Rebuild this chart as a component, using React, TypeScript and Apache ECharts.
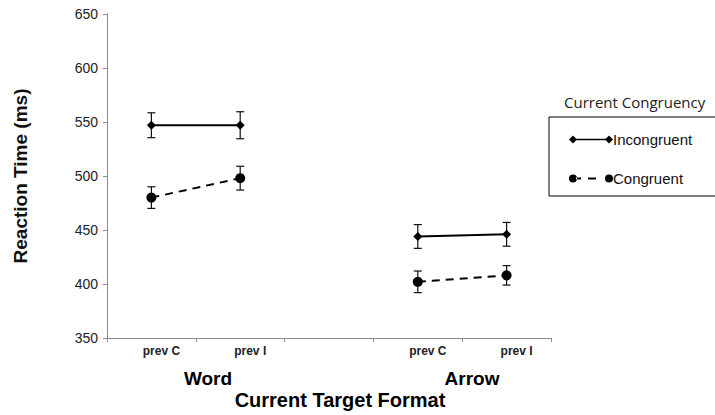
import React, { useEffect, useRef } from "react";
import * as echarts from "echarts";

const categories = ["prev C", "prev I", "", "prev C", "prev I"];
const incongruent = [547, 547, null, 444, 446];
const congruent = [480, 498, null, 402, 408];
const incongruentErr = [11.5, 12.5, null, 11, 11];
const congruentErr = [10, 11, null, 10, 9];
const yTicks = { min: 350, max: 650, interval: 50 };
const groupLabels = ["Word", "Arrow"];

function errData(vals: (number | null)[], errs: (number | null)[]) {
  const out: number[][] = [];
  vals.forEach((v, i) => {
    const e = errs[i];
    if (v != null && e != null) out.push([i, v - e, v + e]);
  });
  return out;
}

const errRender = (params: any, api: any) => {
  const x = api.value(0);
  const lo = api.coord([x, api.value(1)]);
  const hi = api.coord([x, api.value(2)]);
  const w = 4;
  const style = { stroke: "#111", lineWidth: 1.2 };
  return {
    type: "group",
    children: [
      { type: "line", shape: { x1: lo[0], y1: lo[1], x2: hi[0], y2: hi[1] }, style },
      { type: "line", shape: { x1: lo[0] - w, y1: lo[1], x2: lo[0] + w, y2: lo[1] }, style },
      { type: "line", shape: { x1: hi[0] - w, y1: hi[1], x2: hi[0] + w, y2: hi[1] }, style },
    ],
  };
};

const incIcon =
  "path://M0 4 L4 0 L8 4 L4 8 Z M4 3.2 L40 3.2 L40 4.8 L4 4.8 Z M36 4 L40 0 L44 4 L40 8 Z";
const conIcon =
  "path://M0 4 A4 4 0 1 0 8 4 A4 4 0 1 0 0 4 Z M7 3.1 L12 3.1 L12 4.9 L7 4.9 Z M19 3.1 L27 3.1 L27 4.9 L19 4.9 Z M36 4 A4 4 0 1 0 44 4 A4 4 0 1 0 36 4 Z";

export default function App() {
  const ref = useRef<HTMLDivElement>(null);
  useEffect(() => {
    if (!ref.current) return;
    const chart = echarts.init(ref.current, null, { renderer: "svg" });
    const font = "'Liberation Sans', Arial, sans-serif";
    chart.setOption({
      animation: false,
      backgroundColor: "#fff",
      textStyle: { fontFamily: font },
      grid: { left: 107, right: 164, top: 14, bottom: 77, containLabel: false },
      title: {
        text: "Current Congruency",
        left: 564,
        top: 94,
        padding: 0,
        textStyle: { fontFamily: "'Open Sans', 'Noto Sans', sans-serif", fontSize: 15, fontWeight: "normal", color: "#222" },
      },
      legend: {
        orient: "vertical",
        left: 549,
        top: 117,
        padding: [15, 20, 15, 20],
        itemWidth: 44,
        itemHeight: 8,
        itemGap: 24,
        textStyle: { fontFamily: font, fontSize: 15, color: "#111", padding: [0, 0, 0, -5] },
        data: [
          { name: "Incongruent", icon: incIcon },
          { name: "Congruent", icon: conIcon },
        ],
      },
      xAxis: {
        type: "category",
        data: categories,
        boundaryGap: true,
        axisLine: { lineStyle: { color: "#8c8c8c", width: 1 } },
        axisTick: { show: true, length: 4, lineStyle: { color: "#8c8c8c" } },
        axisLabel: { fontFamily: font, fontSize: 12, fontWeight: "bold", color: "#222", margin: 7, padding: [0, 0, 0, 20] },
        splitLine: { show: false },
      },
      yAxis: {
        type: "value",
        min: yTicks.min,
        max: yTicks.max,
        interval: yTicks.interval,
        name: "Reaction Time (ms)",
        nameLocation: "middle",
        nameGap: 77,
        nameTextStyle: { fontFamily: font, fontSize: 19, fontWeight: "bold", color: "#111" },
        axisLine: { show: true, lineStyle: { color: "#8c8c8c", width: 1 } },
        axisTick: { show: true, length: 4, lineStyle: { color: "#8c8c8c" } },
        axisLabel: { fontFamily: font, fontSize: 14, color: "#222", margin: 9 },
        splitLine: { show: false },
      },
      graphic: [
        { type: "rect", shape: { x: 549, y: 117, width: 200, height: 79 }, style: { fill: "none", stroke: "#000", lineWidth: 1 }, z: 10 },
        { type: "text", x: 208, y: 378, style: { text: groupLabels[0], font: `bold 19px ${font}`, fill: "#000", align: "center", verticalAlign: "middle" } },
        { type: "text", x: 472, y: 378, style: { text: groupLabels[1], font: `bold 19px ${font}`, fill: "#000", align: "center", verticalAlign: "middle" } },
        { type: "text", x: 340, y: 400, style: { text: "Current Target Format", font: `bold 20px ${font}`, fill: "#000", align: "center", verticalAlign: "middle" } },
      ],
      series: [
        {
          type: "custom",
          name: "errInc",
          renderItem: errRender,
          data: errData(incongruent, incongruentErr),
          z: 1,
          silent: true,
        },
        {
          type: "custom",
          name: "errCon",
          renderItem: errRender,
          data: errData(congruent, congruentErr),
          z: 1,
          silent: true,
        },
        {
          type: "line",
          name: "Incongruent",
          data: incongruent,
          connectNulls: false,
          symbol: "diamond",
          symbolSize: 9,
          color: "#000",
          lineStyle: { color: "#000", width: 2 },
          itemStyle: { color: "#000" },
          z: 3,
        },
        {
          type: "line",
          name: "Congruent",
          data: congruent,
          connectNulls: false,
          symbol: "circle",
          symbolSize: 10,
          color: "#000",
          lineStyle: { color: "#000", width: 2, type: [8, 6] },
          itemStyle: { color: "#000" },
          z: 3,
        },
      ],
    });
    return () => chart.dispose();
  }, []);
  return <div ref={ref} style={{ position: "absolute", left: 0, top: 0, width: 715, height: 415 }} />;
}
